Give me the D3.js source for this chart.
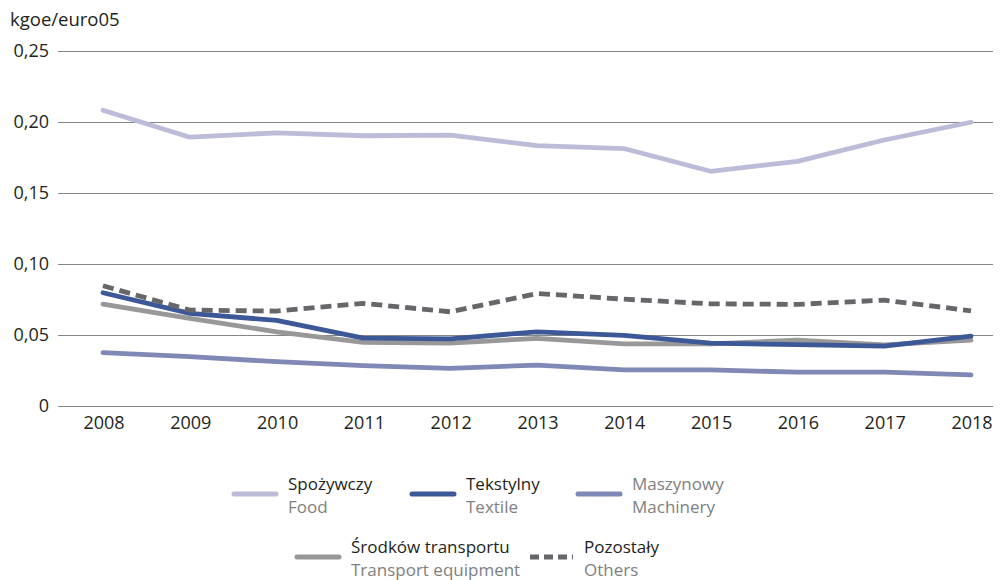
<!DOCTYPE html>
<html>
<head>
<meta charset="utf-8">
<script src="https://cdn.jsdelivr.net/npm/d3@7"></script>
<style>
  body { margin: 0; background: #fff; }
  svg text { font-family: "Open Sans", sans-serif; }
</style>
</head>
<body>
<div id="chart"></div>
<script>
// Data
const years = ["2008", "2009", "2010", "2011", "2012", "2013", "2014", "2015", "2016", "2017", "2018"];
const food = [0.208, 0.189, 0.192, 0.190, 0.1905, 0.183, 0.181, 0.165, 0.172, 0.187, 0.1995];
const textile = [0.0795, 0.065, 0.060, 0.0476, 0.047, 0.052, 0.0495, 0.044, 0.043, 0.042, 0.049];
const machinery = [0.0373, 0.0345, 0.031, 0.0282, 0.0263, 0.0286, 0.0252, 0.0252, 0.0236, 0.0236, 0.0217];
const transport = [0.0715, 0.0615, 0.052, 0.0446, 0.044, 0.0474, 0.0435, 0.0435, 0.0462, 0.0428, 0.0462];
const others = [0.0844, 0.0673, 0.0666, 0.072, 0.0661, 0.079, 0.075, 0.0717, 0.0713, 0.0743, 0.0668];
const yTicks = [0, 0.05, 0.10, 0.15, 0.20, 0.25];

const series = [
  { pl: "Spożywczy", en: "Food", values: food, color: "#bcbcd9", dash: null, plColor: "#231f20" },
  { pl: "Tekstylny", en: "Textile", values: textile, color: "#3d5896", dash: null, plColor: "#231f20" },
  { pl: "Maszynowy", en: "Machinery", values: machinery, color: "#8088b6", dash: null, plColor: "#808080" },
  { pl: "Środków transportu", en: "Transport equipment", values: transport, color: "#989898", dash: null, plColor: "#231f20" },
  { pl: "Pozostały", en: "Others", values: others, color: "#66676a", dash: "11,6", plColor: "#231f20" }
];

const width = 1007, height = 580;
const gridLeft = 58, gridRight = 993;

const svg = d3.select("#chart")
  .append("svg")
  .attr("width", width)
  .attr("height", height);

const x = d3.scalePoint()
  .domain(years)
  .range([103, 971]);

const y = d3.scaleLinear()
  .domain([0, 0.25])
  .range([405.7, 50.5]);

// gridlines
svg.append("g")
  .selectAll("line")
  .data(yTicks)
  .join("line")
  .attr("x1", gridLeft)
  .attr("x2", gridRight)
  .attr("y1", d => Math.round(y(d)) + 0.5)
  .attr("y2", d => Math.round(y(d)) + 0.5)
  .attr("stroke", "#858585")
  .attr("stroke-width", 1);

// y axis labels
const fmt = d => d === 0 ? "0" : d3.format(".2f")(d).replace(".", ",");
svg.append("g")
  .selectAll("text")
  .data(yTicks)
  .join("text")
  .attr("x", 49)
  .attr("y", d => y(d))
  .attr("dy", "0.36em")
  .attr("text-anchor", "end")
  .attr("font-size", 18)
  .attr("fill", "#231f20")
  .text(fmt);

// unit label
svg.append("text")
  .attr("x", 10)
  .attr("y", 26)
  .attr("font-size", 18.5)
  .attr("fill", "#231f20")
  .text("kgoe/euro05");

// x axis labels
svg.append("g")
  .selectAll("text")
  .data(years)
  .join("text")
  .attr("x", d => x(d) + 1)
  .attr("y", 429)
  .attr("text-anchor", "middle")
  .attr("font-size", 18)
  .attr("fill", "#231f20")
  .text(d => d);

// lines
const line = d3.line()
  .x((d, i) => x(years[i]))
  .y(d => y(d));

const drawOrder = [0, 2, 3, 1, 4];
drawOrder.forEach(k => {
  const s = series[k];
  svg.append("path")
    .datum(s.values)
    .attr("d", line)
    .attr("fill", "none")
    .attr("stroke", s.color)
    .attr("stroke-width", 4.8)
    .attr("stroke-linejoin", "round")
    .attr("stroke-linecap", s.dash ? "butt" : "round")
    .attr("stroke-dasharray", s.dash);
});

// legend
const legendPos = [
  { x: 232, y: 494 },
  { x: 410, y: 494 },
  { x: 576, y: 494 },
  { x: 295, y: 557 },
  { x: 530, y: 557 }
];

series.forEach((s, i) => {
  const p = legendPos[i];
  const g = svg.append("g").attr("transform", `translate(${p.x},${p.y})`);
  g.append("line")
    .attr("x1", s.dash ? 0 : 2)
    .attr("x2", s.dash ? 43 : 44)
    .attr("y1", 0)
    .attr("y2", 0)
    .attr("stroke", s.color)
    .attr("stroke-width", 5)
    .attr("stroke-linecap", s.dash ? "butt" : "round")
    .attr("stroke-dasharray", s.dash ? "9,5" : null);
  g.append("text")
    .attr("x", s.dash ? 54 : 56)
    .attr("y", -4)
    .attr("font-size", 17)
    .attr("fill", s.plColor)
    .text(s.pl);
  g.append("text")
    .attr("x", s.dash ? 54 : 56)
    .attr("y", 19)
    .attr("font-size", 17)
    .attr("fill", "#808080")
    .text(s.en);
});
</script>
</body>
</html>
